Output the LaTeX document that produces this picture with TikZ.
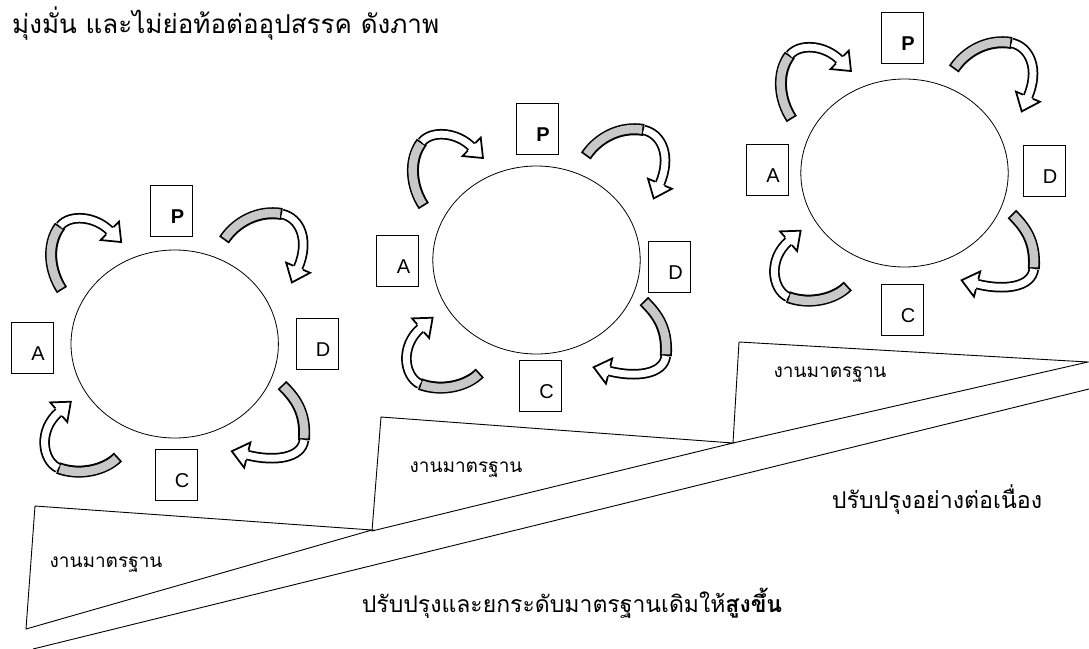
\documentclass[tikz,border=0pt]{standalone}
\usepackage{fontspec}
\setmainfont{Liberation Sans}
\newfontfamily\thai[Script=Thai]{Loma}
\usetikzlibrary{decorations.markings}
\definecolor{backgray}{RGB}{200,200,200}
\tikzset{
  box/.style={draw, line width=0.9pt, minimum width=42pt, minimum height=51pt, inner sep=0pt},
  lbl/.style={inner sep=0pt, font=\fontsize{20}{20}\selectfont},
  wedge/.style={draw, line width=0.9pt, line join=miter},
  ring/.style={draw, line width=0.8pt},
  thaitext/.style={inner sep=0pt},
}
\newcommand\cycarrow[7]{%
  \draw[line width=12pt] (#1) .. controls (#2) and (#3) .. (#4);
  \draw[line width=8.5pt, color=backgray, shorten <=1.75pt, shorten >=1.75pt] (#1) .. controls (#2) and (#3) .. (#4);
  \draw[line width=10.5pt] (#4) .. controls (#5) and (#6) .. (#7);
  \draw[line width=7pt, white] (#4) .. controls (#5) and (#6) .. (#7);
  \path[postaction={decorate, decoration={markings, mark=at position 0.995 with {%
      \fill[white] (0,-13) -- (16,0) -- (0,13) -- cycle;
      \draw[line width=1.75pt, line join=miter] (0,-5.25) -- (0,-13) -- (16,0) -- (0,13) -- (0,5.25);}}}]
    (#4) .. controls (#5) and (#6) .. (#7);
}
\newcommand\fourarrows{%
  \draw[ring] (0,0) ellipse [x radius=103.7pt, y radius=94pt];
  \cycarrow{-112.7,-54}{-124.7,-72}{-128.7,-99}{-114.7,-118}{-104.7,-130}{-79.7,-128}{-64.7,-113}
  \cycarrow{49.3,-104}{61.3,-122}{83.3,-134}{107.3,-130}{125.3,-126}{135.3,-104}{123.3,-76}
  \cycarrow{107.3,41}{120.3,54}{131.3,68}{129.3,96}{127.3,114}{100.3,118}{72.3,111}
  \cycarrow{-56.7,113}{-69.7,126}{-94.7,132}{-116.7,124}{-132.7,116}{-136.7,86}{-115.7,68}
}
\begin{document}
\begin{tikzpicture}[x=1pt, y=-1pt]
\fill[white] (0,0) rectangle (1089,648);
\useasboundingbox (0,0) rectangle (1089,648);

% title
\node[thaitext, anchor=base west, font=\thai\fontsize{26}{26}\selectfont] (title) at (12,33)
  {มุ่งมั่น และไม่ย่อท้อต่ออุปสรรค ดังภาพ};

% steps
\draw[wedge] (35,506) -- (26,629) -- (372,530) -- cycle;
\draw[wedge] (381,417) -- (372,531) -- (733,443) -- cycle;
\draw[wedge] (739,342) -- (733,443) -- (1088,362) -- cycle;
\draw[wedge] (33,649) -- (1089,389);

\node[thaitext, anchor=base, font=\thai\fontsize{19}{19}\selectfont] (s1) at (106,567) {งานมาตรฐาน};
\node[thaitext, anchor=base, font=\thai\fontsize{19}{19}\selectfont] (s2) at (466,472) {งานมาตรฐาน};
\node[thaitext, anchor=base, font=\thai\fontsize{19}{19}\selectfont] (s3) at (830,377) {งานมาตรฐาน};
\node[thaitext, anchor=base, font=\thai\fontsize{23.2}{23.2}\selectfont] (cont) at (937,508) {ปรับปรุงอย่างต่อเนื่อง};
\node[thaitext, anchor=base, font=\thai\fontsize{23}{23}\selectfont] (raise) at (572,612) {ปรับปรุงและยกระดับมาตรฐานเดิมให้{\bfseries สูงขึ้น}};

% cycle 1
\begin{scope}[shift={(174.7,344)}]
  \fourarrows
\end{scope}
\node[box] (P1) at (171.5,210.5) {};
\node[box] (A1) at (32,347.5) {};
\node[box] (D1) at (317,344) {};
\node[box] (C1) at (176,475) {};
\node[lbl, font=\fontsize{20}{20}\selectfont\bfseries] (P1l) at ([shift={(6,6)}]P1.center) {P};
\node[lbl] (A1l) at ([shift={(6,6)}]A1.center) {A};
\node[lbl] (D1l) at ([shift={(6,6)}]D1.center) {D};
\node[lbl] (C1l) at ([shift={(6,6)}]C1.center) {C};

% cycle 2
\begin{scope}[shift={(536.5,260)}]
  \fourarrows
\end{scope}
\node[box] (P2) at (537,129) {};
\node[box] (A2) at (397.5,261) {};
\node[box] (D2) at (669.5,267) {};
\node[box] (C2) at (540.5,385.5) {};
\node[lbl, font=\fontsize{20}{20}\selectfont\bfseries] (P2l) at ([shift={(6,6)}]P2.center) {P};
\node[lbl] (A2l) at ([shift={(6,6)}]A2.center) {A};
\node[lbl] (D2l) at ([shift={(6,6)}]D2.center) {D};
\node[lbl] (C2l) at ([shift={(6,6)}]C2.center) {C};

% cycle 3
\begin{scope}[shift={(904.5,173)}]
  \fourarrows
\end{scope}
\node[box] (P3) at (902,38) {};
\node[box] (A3) at (767,170) {};
\node[box] (D3) at (1044,171) {};
\node[box] (C3) at (902,310) {};
\node[lbl, font=\fontsize{20}{20}\selectfont\bfseries] (P3l) at ([shift={(6,6)}]P3.center) {P};
\node[lbl] (A3l) at ([shift={(6,6)}]A3.center) {A};
\node[lbl] (D3l) at ([shift={(6,6)}]D3.center) {D};
\node[lbl] (C3l) at ([shift={(6,6)}]C3.center) {C};
\end{tikzpicture}
\end{document}
